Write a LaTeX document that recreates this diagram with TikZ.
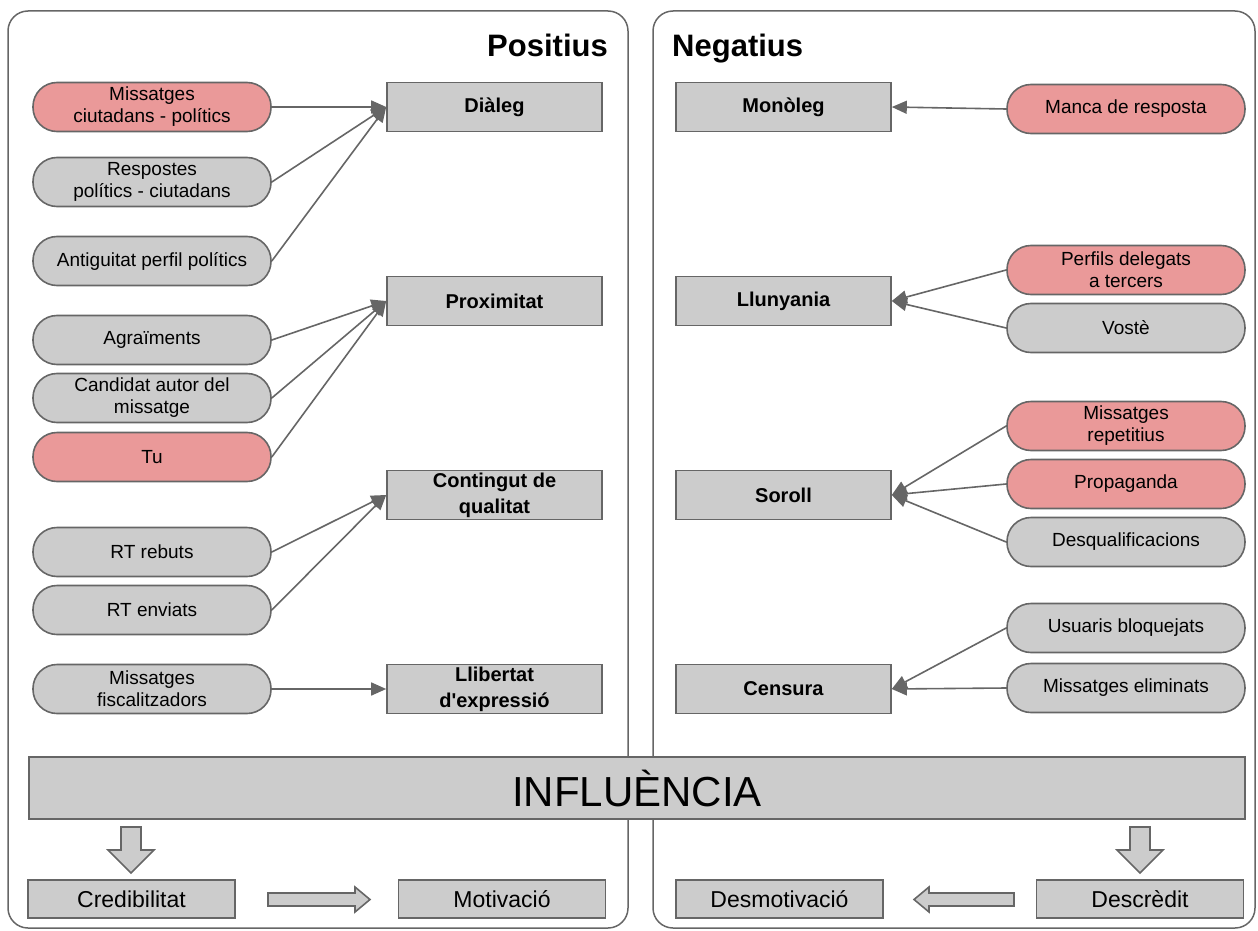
\documentclass[tikz,border=0pt]{standalone}
\usepackage{fontspec}
\setmainfont{Liberation Sans}[Ligatures=TeXOff]
\usetikzlibrary{arrows.meta}
\definecolor{edgegray}{HTML}{666666}
\definecolor{boxgray}{HTML}{CCCCCC}
\definecolor{pinkfill}{HTML}{EA9999}
\tikzset{
  pill/.style={draw=edgegray, line width=1.6pt, fill=boxgray, rounded corners=24pt,
    minimum width=238pt, minimum height=49pt, inner sep=0pt, align=center,
    font=\fontsize{19}{22}\selectfont},
  redpill/.style={pill, fill=pinkfill},
  catbox/.style={draw=edgegray, line width=1.6pt, fill=boxgray,
    minimum width=215pt, minimum height=49pt, inner sep=0pt, align=center,
    font=\fontsize{20}{26}\selectfont\bfseries},
  botbox/.style={draw=edgegray, line width=1.6pt, fill=boxgray,
    minimum width=207pt, minimum height=38pt, inner sep=0pt,
    font=\fontsize{23}{26}\selectfont},
  panel/.style={draw=edgegray, line width=1.5pt, rounded corners=20pt},
  conn/.style={draw=edgegray, line width=1.6pt, -{Triangle[length=15pt,width=13pt]}},
  blockarrow/.style={draw=edgegray, line width=1.6pt, fill=boxgray, line join=miter},
  heading/.style={font=\fontsize{31}{34}\selectfont\bfseries, inner sep=0pt}
}
\begin{document}
\begin{tikzpicture}[x=1pt,y=-1pt]
\useasboundingbox (0,0) rectangle (1258,931);
% panels
\draw[panel] (8,11) rectangle (628,928);
\draw[panel] (653,11) rectangle (1255,928);
\node[heading, anchor=base east] (pos) at (608,57) {Positius};
\node[heading, anchor=base west] (neg) at (672,57) {Negatius};

% left pills
\node[redpill] (m1) at (152,107) {Missatges\\ciutadans - polítics};
\node[pill] (m2) at (152,182) {Respostes\\polítics - ciutadans};
\node[pill] (m3) at (152,261) {Antiguitat perfil polítics};
\node[pill] (m4) at (152,340) {Agraïments};
\node[pill] (m5) at (152,398) {Candidat autor del\\missatge};
\node[redpill] (m6) at (152,457) {Tu};
\node[pill] (m7) at (152,552) {RT rebuts};
\node[pill] (m8) at (152,610) {RT enviats};
\node[pill] (m9) at (152,689) {Missatges\\fiscalitzadors};

% left boxes
\node[catbox] (dialeg) at (494.5,107) {Diàleg};
\node[catbox] (proxim) at (494.5,301) {Proximitat};
\node[catbox] (conting) at (494.5,495) {Contingut de\\qualitat};
\node[catbox] (llibert) at (494.5,689) {Llibertat\\d'expressió};

% right boxes
\node[catbox] (monoleg) at (783.5,107) {Monòleg};
\node[catbox] (lluny) at (783.5,301) {Llunyania};
\node[catbox] (soroll) at (783.5,495) {Soroll};
\node[catbox] (censura) at (783.5,689) {Censura};

% right pills
\node[redpill] (manca) at (1126,109) {Manca de resposta};
\node[redpill] (perfils) at (1126,270) {Perfils delegats\\a tercers};
\node[pill] (voste) at (1126,328) {Vostè};
\node[redpill] (repet) at (1126,426) {Missatges\\repetitius};
\node[redpill] (propag) at (1126,484) {Propaganda};
\node[pill] (desq) at (1126,542) {Desqualificacions};
\node[pill] (usuaris) at (1126,628) {Usuaris bloquejats};
\node[pill] (elim) at (1126,688) {Missatges eliminats};

% connectors left
\draw[conn] (m1.east) -- (dialeg.west);
\draw[conn] (m2.east) -- (dialeg.west);
\draw[conn] (m3.east) -- (dialeg.west);
\draw[conn] (m4.east) -- (proxim.west);
\draw[conn] (m5.east) -- (proxim.west);
\draw[conn] (m6.east) -- (proxim.west);
\draw[conn] (m7.east) -- (conting.west);
\draw[conn] (m8.east) -- (conting.west);
\draw[conn] (m9.east) -- (llibert.west);

% connectors right
\draw[conn] (manca.west) -- (monoleg.east);
\draw[conn] (perfils.west) -- (lluny.east);
\draw[conn] (voste.west) -- (lluny.east);
\draw[conn] (repet.west) -- (soroll.east);
\draw[conn] (propag.west) -- (soroll.east);
\draw[conn] (desq.west) -- (soroll.east);
\draw[conn] (usuaris.west) -- (censura.east);
\draw[conn] (elim.west) -- (censura.east);

% influence bar
\node[draw=edgegray, line width=1.6pt, fill=boxgray, minimum width=1216pt, minimum height=62pt,
  inner sep=0pt, font=\fontsize{42}{46}\selectfont] (infl) at (637,788) {INFLUÈNCIA};

% bottom boxes
\node[botbox] (cred) at (131.5,899) {Credibilitat};
\node[botbox] (motiv) at (502,899) {Motivació};
\node[botbox] (desmot) at (779.5,899) {Desmotivació};
\node[botbox] (descr) at (1140,899) {Descrèdit};

% block arrows
\draw[blockarrow] (121,827) -- (141,827) -- (141,850) -- (154,850) -- (131,873) -- (108,850) -- (121,850) -- cycle;
\draw[blockarrow] (1130,827) -- (1150,827) -- (1150,850) -- (1163,850) -- (1140,873) -- (1117,850) -- (1130,850) -- cycle;
\draw[blockarrow] (268,893) -- (355,893) -- (355,887) -- (370,899.5) -- (355,912) -- (355,906) -- (268,906) -- cycle;
\draw[blockarrow] (1014,893) -- (929,893) -- (929,887) -- (914,899.5) -- (929,912) -- (929,906) -- (1014,906) -- cycle;
\end{tikzpicture}
\end{document}
